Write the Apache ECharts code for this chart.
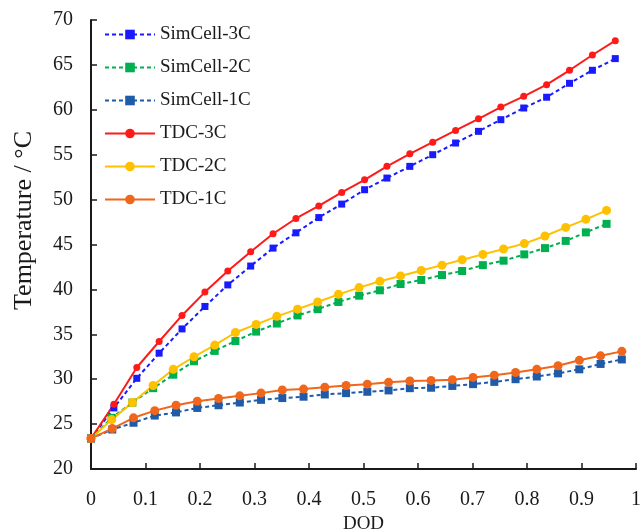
<!DOCTYPE html>
<html>
<head>
<meta charset="utf-8">
<script src="https://cdn.jsdelivr.net/npm/echarts@6/dist/echarts.min.js"></script>
<style>
  html, body { margin: 0; padding: 0; background: #fff; }
  #chart { width: 640px; height: 532px; }
</style>
</head>
<body>
<div id="chart"></div>
<script>
// Depth of discharge sampling points for each C-rate
const dod3C = [0, 0.042, 0.084, 0.125, 0.167, 0.209, 0.251, 0.293, 0.334, 0.376, 0.418, 0.46,
  0.502, 0.543, 0.585, 0.627, 0.669, 0.711, 0.752, 0.794, 0.836, 0.878, 0.92, 0.962];
const dod2C = [0, 0.038, 0.076, 0.114, 0.151, 0.189, 0.227, 0.265, 0.303, 0.341, 0.379, 0.416,
  0.454, 0.492, 0.53, 0.568, 0.606, 0.644, 0.681, 0.719, 0.757, 0.795, 0.833, 0.871, 0.908, 0.946];
const dod1C = [0, 0.039, 0.078, 0.117, 0.156, 0.195, 0.234, 0.273, 0.312, 0.351, 0.39, 0.429,
  0.468, 0.507, 0.546, 0.585, 0.624, 0.663, 0.701, 0.74, 0.779, 0.818, 0.857, 0.896, 0.935, 0.974];

// Temperatures (°C)
const simCell3C = [23.4, 26.8, 30.1, 32.9, 35.6, 38.1, 40.5, 42.6, 44.6, 46.3, 48.0, 49.5,
  51.1, 52.4, 53.7, 55.0, 56.3, 57.6, 58.9, 60.2, 61.4, 62.95, 64.4, 65.7];
const simCell2C = [23.4, 25.7, 27.4, 29.0, 30.5, 32.0, 33.15, 34.25, 35.3, 36.2, 37.1, 37.8,
  38.6, 39.3, 39.9, 40.6, 41.05, 41.6, 42.05, 42.7, 43.2, 43.9, 44.6, 45.4, 46.35, 47.3];
const simCell1C = [23.4, 24.4, 25.15, 25.95, 26.3, 26.8, 27.1, 27.4, 27.7, 27.9, 28.05, 28.3,
  28.45, 28.6, 28.75, 29.0, 29.05, 29.25, 29.45, 29.7, 30.0, 30.3, 30.65, 31.1, 31.7, 32.2];
const tdc3C = [23.4, 27.2, 31.3, 34.2, 37.1, 39.7, 42.05, 44.2, 46.2, 47.9, 49.3, 50.8,
  52.2, 53.7, 55.1, 56.4, 57.7, 59.0, 60.3, 61.5, 62.8, 64.4, 66.1, 67.7];
const tdc2C = [23.4, 25.5, 27.4, 29.3, 31.1, 32.5, 33.8, 35.2, 36.1, 37.0, 37.8, 38.6,
  39.45, 40.2, 40.9, 41.5, 42.1, 42.7, 43.3, 43.9, 44.5, 45.1, 45.95, 46.9, 47.8, 48.8];
const tdc1C = [23.4, 24.5, 25.7, 26.5, 27.1, 27.55, 27.85, 28.15, 28.45, 28.8, 28.9, 29.1,
  29.3, 29.45, 29.65, 29.8, 29.85, 29.95, 30.2, 30.45, 30.75, 31.1, 31.5, 32.1, 32.6, 33.1];

const FONT = '"Liberation Serif", "Times New Roman", serif';

function pairs(xs, ys) { return xs.map((x, i) => [x, ys[i]]); }

function simSeries(name, xs, ys, color, size) {
  return {
    name, type: 'line', data: pairs(xs, ys),
    symbol: 'rect', symbolSize: size,
    itemStyle: { color },
    lineStyle: { color, width: 2, type: [4, 3] },
    emphasis: { disabled: true }
  };
}
function tdcSeries(name, xs, ys, color, size) {
  return {
    name, type: 'line', data: pairs(xs, ys),
    symbol: 'circle', symbolSize: size,
    itemStyle: { color },
    lineStyle: { color, width: 2 },
    emphasis: { disabled: true }
  };
}

const chart = echarts.init(document.getElementById('chart'), null, { renderer: 'canvas' });
chart.setOption({
  animation: false,
  backgroundColor: '#fff',
  grid: { left: 91, right: 4, top: 20, bottom: 63, containLabel: false, outerBoundsMode: 'none' },
  legend: {
    orient: 'vertical', left: 99, top: 20,
    itemWidth: 50, itemHeight: 12, itemGap: 14,
    textStyle: { fontFamily: FONT, fontSize: 19, color: '#1a1a1a' },
    data: ['SimCell-3C', 'SimCell-2C', 'SimCell-1C', 'TDC-3C', 'TDC-2C', 'TDC-1C']
  },
  xAxis: {
    type: 'value', min: 0, max: 1, interval: 0.1,
    name: 'DOD', nameLocation: 'middle', nameGap: 44,
    nameTextStyle: { fontFamily: FONT, fontSize: 19, color: '#1a1a1a' },
    axisLine: { lineStyle: { color: '#1a1a1a', width: 2 } },
    axisTick: { inside: true, length: 6, lineStyle: { color: '#1a1a1a', width: 1.5 } },
    axisLabel: {
      fontFamily: FONT, fontSize: 20, color: '#1a1a1a', margin: 21,
      formatter: v => String(+v.toFixed(1))
    },
    splitLine: { show: false }
  },
  yAxis: {
    type: 'value', min: 20, max: 70, interval: 5,
    name: 'Temperature / °C', nameLocation: 'middle', nameGap: 54,
    nameTextStyle: { fontFamily: FONT, fontSize: 26, color: '#1a1a1a', padding: [0, 0, 0, 48] },
    axisLine: { show: true, lineStyle: { color: '#1a1a1a', width: 2 } },
    axisTick: { show: true, inside: true, length: 6, lineStyle: { color: '#1a1a1a', width: 1.5 } },
    axisLabel: { fontFamily: FONT, fontSize: 20, color: '#1a1a1a', margin: 18 },
    splitLine: { show: false }
  },
  series: [
    simSeries('SimCell-3C', dod3C, simCell3C, '#1a1aff', 7),
    simSeries('SimCell-2C', dod2C, simCell2C, '#00b050', 8),
    simSeries('SimCell-1C', dod1C, simCell1C, '#1f5ba8', 8),
    tdcSeries('TDC-3C', dod3C, tdc3C, '#ff1a1a', 7),
    tdcSeries('TDC-2C', dod2C, tdc2C, '#ffc000', 9),
    tdcSeries('TDC-1C', dod1C, tdc1C, '#f0661a', 9)
  ]
});
</script>
</body>
</html>
